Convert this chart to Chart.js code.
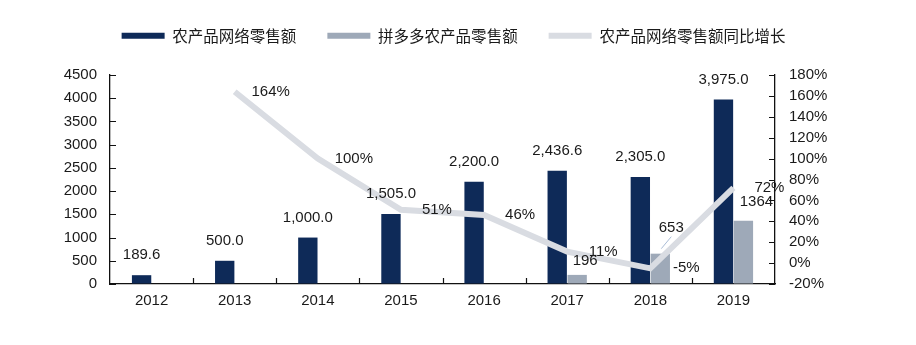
<!DOCTYPE html>
<html lang="zh">
<head>
    <meta charset="UTF-8">
    <title>农产品网络零售额</title>
    <script src="https://cdn.jsdelivr.net/npm/chart.js@4.4.0/dist/chart.umd.min.js"></script>
    <style>
        * { margin: 0; padding: 0; box-sizing: border-box; }
        body { background: #fff; width: 916px; height: 345px; overflow: hidden; }
        #wrap { width: 916px; height: 345px; }
    </style>
</head>
<body>
    <div id="wrap"><canvas id="chart" width="916" height="345"></canvas></div>

    <script>
        // data
        const years = ['2012', '2013', '2014', '2015', '2016', '2017', '2018', '2019'];
        const onlineSales = [189.6, 500.0, 1000.0, 1505.0, 2200.0, 2436.6, 2305.0, 3975.0];
        const pddSales = [null, null, null, null, null, 196, 653, 1364];
        const growthPct = [null, 164, 100, 51, 46, 11, -5, 72];
        const leftTicks = [0, 500, 1000, 1500, 2000, 2500, 3000, 3500, 4000, 4500];
        const rightTicks = [-20, 0, 20, 40, 60, 80, 100, 120, 140, 160, 180];

        const NAVY = '#0e2a58';
        const GREY = '#9ea9b8';
        const LINE = '#d9dce2';
        const TXT = '#1a1a1a';
        const NUM_FONT = "15px 'Liberation Sans', Arial, sans-serif";

        // inward tick marks on all three axes
        const innerTicks = {
            id: 'innerTicks',
            afterDraw(chart) {
                const { ctx, chartArea: a, scales } = chart;
                ctx.save();
                ctx.strokeStyle = '#111';
                ctx.lineWidth = 1.2;
                ctx.beginPath();
                leftTicks.forEach(v => {
                    const y = Math.round(scales.y.getPixelForValue(v)) + 0.5;
                    ctx.moveTo(a.left, y); ctx.lineTo(a.left + 6, y);
                });
                rightTicks.forEach(v => {
                    const y = Math.round(scales.y1.getPixelForValue(v)) + 0.5;
                    ctx.moveTo(a.right, y); ctx.lineTo(a.right - 6, y);
                });
                for (let i = 1; i < years.length; i++) {
                    const x = Math.round((scales.x.getPixelForValue(i - 1) + scales.x.getPixelForValue(i)) / 2) + 0.5;
                    ctx.moveTo(x, a.bottom); ctx.lineTo(x, a.bottom - 6);
                }
                ctx.stroke();
                ctx.restore();
            }
        };

        // value labels
        const pddNudge = { 5: [8, -14], 6: [11, -26], 7: [13, -19] };
        const valueLabels = {
            id: 'valueLabels',
            afterDatasetsDraw(chart) {
                const ctx = chart.ctx;
                ctx.save();
                ctx.font = NUM_FONT;
                ctx.fillStyle = TXT;
                ctx.textAlign = 'center';
                ctx.textBaseline = 'middle';

                chart.getDatasetMeta(0).data.forEach((bar, i) => {
                    const txt = onlineSales[i].toLocaleString('en-US', { minimumFractionDigits: 1, maximumFractionDigits: 1 });
                    ctx.fillText(txt, bar.x, bar.y - 20);
                });

                chart.getDatasetMeta(1).data.forEach((bar, i) => {
                    if (pddSales[i] == null) return;
                    const [dx, dy] = pddNudge[i] || [0, -16];
                    if (i === 6) {
                        ctx.strokeStyle = '#a9bcd6';
                        ctx.lineWidth = 1;
                        ctx.beginPath();
                        ctx.moveTo(bar.x + 1, bar.y - 5);
                        ctx.lineTo(bar.x + dx, bar.y + dy + 9);
                        ctx.stroke();
                    }
                    ctx.fillText(String(pddSales[i]), bar.x + dx, bar.y + dy);
                });

                chart.getDatasetMeta(2).data.forEach((pt, i) => {
                    if (growthPct[i] == null) return;
                    ctx.fillText(growthPct[i] + '%', pt.x + 36, pt.y);
                });
                ctx.restore();
            }
        };

        // legend takes a fixed strip at the top
        const legendHeight = {
            id: 'legendHeight',
            beforeLayout(chart) {
                const lg = chart.legend;
                if (lg && !lg._fixed) {
                    const fit = lg.fit;
                    lg.fit = function () { fit.call(this); this.height = 78; };
                    lg._fixed = true;
                }
            }
        };

        const tickFont = { family: "'Liberation Sans', Arial", size: 15 };

        new Chart(document.getElementById('chart'), {
            data: {
                labels: years,
                datasets: [
                    {
                        type: 'bar',
                        label: '农产品网络零售额',
                        data: onlineSales,
                        backgroundColor: NAVY,
                        yAxisID: 'y',
                        order: 1,
                        categoryPercentage: 0.48,
                        barPercentage: 0.97
                    },
                    {
                        type: 'bar',
                        label: '拼多多农产品零售额',
                        data: pddSales,
                        backgroundColor: GREY,
                        yAxisID: 'y',
                        order: 1,
                        categoryPercentage: 0.48,
                        barPercentage: 0.97
                    },
                    {
                        type: 'line',
                        label: '农产品网络零售额同比增长',
                        data: growthPct,
                        borderColor: LINE,
                        backgroundColor: LINE,
                        borderWidth: 6,
                        pointRadius: 0,
                        tension: 0,
                        yAxisID: 'y1',
                        order: 0
                    }
                ]
            },
            options: {
                responsive: false,
                devicePixelRatio: 1,
                animation: false,
                layout: { padding: { top: -3, left: 0, right: 9, bottom: 0 } },
                scales: {
                    x: {
                        offset: true,
                        grid: { display: true, drawOnChartArea: false, drawTicks: false },
                        border: { display: true, color: '#111', width: 1.3 },
                        ticks: { color: TXT, padding: 8, font: tickFont },
                        afterFit(s) { s.height = 61; }
                    },
                    y: {
                        position: 'left',
                        min: 0,
                        max: 4500,
                        afterBuildTicks(s) { s.ticks = leftTicks.map(v => ({ value: v })); },
                        grid: { display: true, drawOnChartArea: false, drawTicks: false },
                        border: { display: true, color: '#111', width: 1.3 },
                        ticks: { color: TXT, padding: 13, font: tickFont, autoSkip: false, callback: v => String(v) },
                        afterFit(s) { s.width = 110; }
                    },
                    y1: {
                        position: 'right',
                        min: -20,
                        max: 180,
                        afterBuildTicks(s) { s.ticks = rightTicks.map(v => ({ value: v })); },
                        grid: { display: true, drawOnChartArea: false, drawTicks: false },
                        border: { display: true, color: '#111', width: 1.3 },
                        ticks: { color: TXT, padding: 14, font: tickFont, autoSkip: false, callback: v => v + '%' },
                        afterFit(s) { s.width = 132; }
                    }
                },
                plugins: {
                    legend: {
                        position: 'top',
                        align: 'center',
                        labels: {
                            boxWidth: 43,
                            boxHeight: 6,
                            padding: 31,
                            color: TXT,
                            font: { family: "'Noto Sans CJK SC', sans-serif", size: 15.5 },
                            sort: (a, b) => a.datasetIndex - b.datasetIndex,
                            generateLabels(chart) {
                                const items = Chart.defaults.plugins.legend.labels.generateLabels(chart);
                                items.forEach(it => { it.lineWidth = 0; });
                                return items;
                            }
                        }
                    },
                    tooltip: { enabled: false }
                }
            },
            plugins: [innerTicks, valueLabels, legendHeight]
        });
    </script>
</body>
</html>
